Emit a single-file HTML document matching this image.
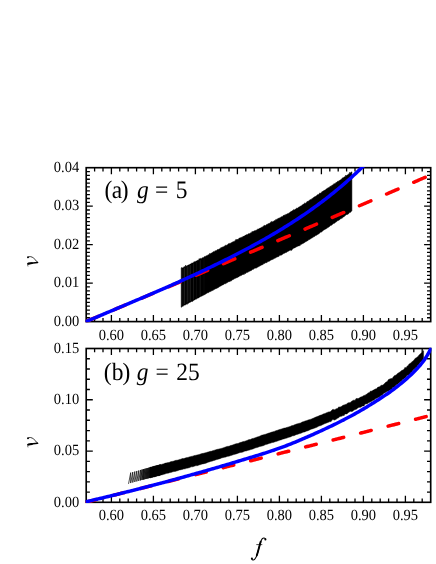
<!DOCTYPE html>
<html><head><meta charset="utf-8"><title>chart</title>
<style>html,body{margin:0;padding:0;background:#fff}body{width:436px;height:564px;overflow:hidden;font-family:"Liberation Serif",serif}svg{display:block;will-change:transform}</style>
</head><body>
<svg width="436" height="564" viewBox="0 0 436 564">
<rect width="436" height="564" fill="#fff"/>
<defs>
<clipPath id="ca"><rect x="85.45" y="166.95" width="346.0" height="155.40000000000003"/></clipPath>
<clipPath id="cb"><rect x="85.45" y="347.75" width="346.0" height="155.3"/></clipPath>
</defs>
<style>.t{font-family:"Liberation Serif",serif;font-size:14.5px;fill:#000}text{text-rendering:geometricPrecision}.l{font-family:"Liberation Serif",serif;font-size:23.5px;fill:#000}.i{font-style:italic}</style>
<path d="M94.60,321.6v-3.7M94.60,167.7v3.7M103.00,321.6v-3.7M103.00,167.7v3.7M111.40,321.6v-6.6M111.40,167.7v6.6M119.80,321.6v-3.7M119.80,167.7v3.7M128.20,321.6v-3.7M128.20,167.7v3.7M136.60,321.6v-3.7M136.60,167.7v3.7M145.00,321.6v-3.7M145.00,167.7v3.7M153.40,321.6v-6.6M153.40,167.7v6.6M161.80,321.6v-3.7M161.80,167.7v3.7M170.20,321.6v-3.7M170.20,167.7v3.7M178.60,321.6v-3.7M178.60,167.7v3.7M187.00,321.6v-3.7M187.00,167.7v3.7M195.40,321.6v-6.6M195.40,167.7v6.6M203.80,321.6v-3.7M203.80,167.7v3.7M212.20,321.6v-3.7M212.20,167.7v3.7M220.60,321.6v-3.7M220.60,167.7v3.7M229.00,321.6v-3.7M229.00,167.7v3.7M237.40,321.6v-6.6M237.40,167.7v6.6M245.80,321.6v-3.7M245.80,167.7v3.7M254.20,321.6v-3.7M254.20,167.7v3.7M262.60,321.6v-3.7M262.60,167.7v3.7M271.00,321.6v-3.7M271.00,167.7v3.7M279.40,321.6v-6.6M279.40,167.7v6.6M287.80,321.6v-3.7M287.80,167.7v3.7M296.20,321.6v-3.7M296.20,167.7v3.7M304.60,321.6v-3.7M304.60,167.7v3.7M313.00,321.6v-3.7M313.00,167.7v3.7M321.40,321.6v-6.6M321.40,167.7v6.6M329.80,321.6v-3.7M329.80,167.7v3.7M338.20,321.6v-3.7M338.20,167.7v3.7M346.60,321.6v-3.7M346.60,167.7v3.7M355.00,321.6v-3.7M355.00,167.7v3.7M363.40,321.6v-6.6M363.40,167.7v6.6M371.80,321.6v-3.7M371.80,167.7v3.7M380.20,321.6v-3.7M380.20,167.7v3.7M388.60,321.6v-3.7M388.60,167.7v3.7M397.00,321.6v-3.7M397.00,167.7v3.7M405.40,321.6v-6.6M405.40,167.7v6.6M413.80,321.6v-3.7M413.80,167.7v3.7M422.20,321.6v-3.7M422.20,167.7v3.7M86.2,317.75h3.7M430.7,317.75h-3.7M86.2,313.91h3.7M430.7,313.91h-3.7M86.2,310.06h3.7M430.7,310.06h-3.7M86.2,306.21h3.7M430.7,306.21h-3.7M86.2,302.36h3.7M430.7,302.36h-3.7M86.2,298.52h3.7M430.7,298.52h-3.7M86.2,294.67h3.7M430.7,294.67h-3.7M86.2,290.82h3.7M430.7,290.82h-3.7M86.2,286.97h3.7M430.7,286.97h-3.7M86.2,283.12h6.6M430.7,283.12h-6.6M86.2,279.28h3.7M430.7,279.28h-3.7M86.2,275.43h3.7M430.7,275.43h-3.7M86.2,271.58h3.7M430.7,271.58h-3.7M86.2,267.74h3.7M430.7,267.74h-3.7M86.2,263.89h3.7M430.7,263.89h-3.7M86.2,260.04h3.7M430.7,260.04h-3.7M86.2,256.19h3.7M430.7,256.19h-3.7M86.2,252.34h3.7M430.7,252.34h-3.7M86.2,248.50h3.7M430.7,248.50h-3.7M86.2,244.65h6.6M430.7,244.65h-6.6M86.2,240.80h3.7M430.7,240.80h-3.7M86.2,236.96h3.7M430.7,236.96h-3.7M86.2,233.11h3.7M430.7,233.11h-3.7M86.2,229.26h3.7M430.7,229.26h-3.7M86.2,225.41h3.7M430.7,225.41h-3.7M86.2,221.56h3.7M430.7,221.56h-3.7M86.2,217.72h3.7M430.7,217.72h-3.7M86.2,213.87h3.7M430.7,213.87h-3.7M86.2,210.02h3.7M430.7,210.02h-3.7M86.2,206.18h6.6M430.7,206.18h-6.6M86.2,202.33h3.7M430.7,202.33h-3.7M86.2,198.48h3.7M430.7,198.48h-3.7M86.2,194.63h3.7M430.7,194.63h-3.7M86.2,190.78h3.7M430.7,190.78h-3.7M86.2,186.94h3.7M430.7,186.94h-3.7M86.2,183.09h3.7M430.7,183.09h-3.7M86.2,179.24h3.7M430.7,179.24h-3.7M86.2,175.39h3.7M430.7,175.39h-3.7M86.2,171.55h3.7M430.7,171.55h-3.7" stroke="#000" stroke-width="1.3" fill="none"/>
<rect x="86.2" y="167.7" width="344.5" height="153.90000000000003" fill="none" stroke="#000" stroke-width="1.65"/>
<text transform="translate(79.2,325.80) scale(1,1.075)" text-anchor="end" class="t">0.00</text>
<text transform="translate(79.2,287.32) scale(1,1.075)" text-anchor="end" class="t">0.01</text>
<text transform="translate(79.2,248.85) scale(1,1.075)" text-anchor="end" class="t">0.02</text>
<text transform="translate(79.2,210.38) scale(1,1.075)" text-anchor="end" class="t">0.03</text>
<text transform="translate(79.2,171.90) scale(1,1.075)" text-anchor="end" class="t">0.04</text>
<text transform="translate(111.40,339.75) scale(1,1.075)" text-anchor="middle" class="t">0.60</text>
<text transform="translate(153.40,339.75) scale(1,1.075)" text-anchor="middle" class="t">0.65</text>
<text transform="translate(195.40,339.75) scale(1,1.075)" text-anchor="middle" class="t">0.70</text>
<text transform="translate(237.40,339.75) scale(1,1.075)" text-anchor="middle" class="t">0.75</text>
<text transform="translate(279.40,339.75) scale(1,1.075)" text-anchor="middle" class="t">0.80</text>
<text transform="translate(321.40,339.75) scale(1,1.075)" text-anchor="middle" class="t">0.85</text>
<text transform="translate(363.40,339.75) scale(1,1.075)" text-anchor="middle" class="t">0.90</text>
<text transform="translate(405.40,339.75) scale(1,1.075)" text-anchor="middle" class="t">0.95</text>
<path d="M94.60,502.3v-3.7M94.60,348.5v3.7M103.00,502.3v-3.7M103.00,348.5v3.7M111.40,502.3v-6.6M111.40,348.5v6.6M119.80,502.3v-3.7M119.80,348.5v3.7M128.20,502.3v-3.7M128.20,348.5v3.7M136.60,502.3v-3.7M136.60,348.5v3.7M145.00,502.3v-3.7M145.00,348.5v3.7M153.40,502.3v-6.6M153.40,348.5v6.6M161.80,502.3v-3.7M161.80,348.5v3.7M170.20,502.3v-3.7M170.20,348.5v3.7M178.60,502.3v-3.7M178.60,348.5v3.7M187.00,502.3v-3.7M187.00,348.5v3.7M195.40,502.3v-6.6M195.40,348.5v6.6M203.80,502.3v-3.7M203.80,348.5v3.7M212.20,502.3v-3.7M212.20,348.5v3.7M220.60,502.3v-3.7M220.60,348.5v3.7M229.00,502.3v-3.7M229.00,348.5v3.7M237.40,502.3v-6.6M237.40,348.5v6.6M245.80,502.3v-3.7M245.80,348.5v3.7M254.20,502.3v-3.7M254.20,348.5v3.7M262.60,502.3v-3.7M262.60,348.5v3.7M271.00,502.3v-3.7M271.00,348.5v3.7M279.40,502.3v-6.6M279.40,348.5v6.6M287.80,502.3v-3.7M287.80,348.5v3.7M296.20,502.3v-3.7M296.20,348.5v3.7M304.60,502.3v-3.7M304.60,348.5v3.7M313.00,502.3v-3.7M313.00,348.5v3.7M321.40,502.3v-6.6M321.40,348.5v6.6M329.80,502.3v-3.7M329.80,348.5v3.7M338.20,502.3v-3.7M338.20,348.5v3.7M346.60,502.3v-3.7M346.60,348.5v3.7M355.00,502.3v-3.7M355.00,348.5v3.7M363.40,502.3v-6.6M363.40,348.5v6.6M371.80,502.3v-3.7M371.80,348.5v3.7M380.20,502.3v-3.7M380.20,348.5v3.7M388.60,502.3v-3.7M388.60,348.5v3.7M397.00,502.3v-3.7M397.00,348.5v3.7M405.40,502.3v-6.6M405.40,348.5v6.6M413.80,502.3v-3.7M413.80,348.5v3.7M422.20,502.3v-3.7M422.20,348.5v3.7M86.2,492.05h3.7M430.7,492.05h-3.7M86.2,481.79h3.7M430.7,481.79h-3.7M86.2,471.54h3.7M430.7,471.54h-3.7M86.2,461.29h3.7M430.7,461.29h-3.7M86.2,451.03h6.6M430.7,451.03h-6.6M86.2,440.78h3.7M430.7,440.78h-3.7M86.2,430.53h3.7M430.7,430.53h-3.7M86.2,420.27h3.7M430.7,420.27h-3.7M86.2,410.02h3.7M430.7,410.02h-3.7M86.2,399.77h6.6M430.7,399.77h-6.6M86.2,389.51h3.7M430.7,389.51h-3.7M86.2,379.26h3.7M430.7,379.26h-3.7M86.2,369.01h3.7M430.7,369.01h-3.7M86.2,358.75h3.7M430.7,358.75h-3.7" stroke="#000" stroke-width="1.3" fill="none"/>
<rect x="86.2" y="348.5" width="344.5" height="153.8" fill="none" stroke="#000" stroke-width="1.65"/>
<text transform="translate(79.2,506.50) scale(1,1.075)" text-anchor="end" class="t">0.00</text>
<text transform="translate(79.2,455.23) scale(1,1.075)" text-anchor="end" class="t">0.05</text>
<text transform="translate(79.2,403.97) scale(1,1.075)" text-anchor="end" class="t">0.10</text>
<text transform="translate(79.2,352.70) scale(1,1.075)" text-anchor="end" class="t">0.15</text>
<text transform="translate(111.40,520.45) scale(1,1.075)" text-anchor="middle" class="t">0.60</text>
<text transform="translate(153.40,520.45) scale(1,1.075)" text-anchor="middle" class="t">0.65</text>
<text transform="translate(195.40,520.45) scale(1,1.075)" text-anchor="middle" class="t">0.70</text>
<text transform="translate(237.40,520.45) scale(1,1.075)" text-anchor="middle" class="t">0.75</text>
<text transform="translate(279.40,520.45) scale(1,1.075)" text-anchor="middle" class="t">0.80</text>
<text transform="translate(321.40,520.45) scale(1,1.075)" text-anchor="middle" class="t">0.85</text>
<text transform="translate(363.40,520.45) scale(1,1.075)" text-anchor="middle" class="t">0.90</text>
<text transform="translate(405.40,520.45) scale(1,1.075)" text-anchor="middle" class="t">0.95</text>
<g clip-path="url(#ca)">
<polygon points="181.20,267.88 181.70,267.41 182.20,268.12 182.70,267.81 183.20,267.62 183.70,267.48 184.20,266.42 184.70,266.98 185.20,266.45 185.70,265.10 186.20,266.25 186.70,265.94 187.20,265.73 187.70,265.31 188.20,264.88 188.70,264.93 189.20,264.64 189.70,264.50 190.20,263.93 190.70,264.02 191.20,263.85 191.70,262.92 192.20,263.12 192.70,262.88 193.20,262.78 193.70,262.36 194.20,261.48 194.70,261.98 195.20,261.74 195.70,261.15 196.20,260.94 196.70,260.96 197.20,260.44 197.70,260.32 198.20,260.29 198.70,259.77 199.20,258.54 199.70,259.10 200.20,258.87 200.70,258.30 201.20,258.67 201.70,258.22 202.20,258.08 202.70,257.54 203.20,257.75 203.70,257.48 204.20,256.62 204.70,256.65 205.20,256.65 205.70,255.97 206.20,256.12 206.70,255.54 207.20,255.43 207.70,255.17 208.20,255.08 208.70,254.56 209.20,254.55 209.70,253.26 210.20,253.81 210.70,253.63 211.20,252.85 211.70,253.29 212.20,252.62 212.70,252.45 213.20,251.60 213.70,251.84 214.20,251.66 214.70,251.19 215.20,250.47 215.70,250.95 216.20,250.76 216.70,250.36 217.20,249.65 217.70,249.56 218.20,249.67 218.70,249.08 219.20,248.65 219.70,249.01 220.20,248.58 220.70,247.71 221.20,247.46 221.70,247.61 222.20,247.34 222.70,246.90 223.20,246.99 223.70,246.60 224.20,246.26 224.70,246.00 225.20,245.48 225.70,245.18 226.20,245.30 226.70,245.17 227.20,244.95 227.70,244.53 228.20,243.97 228.70,243.49 229.20,244.01 229.70,243.21 230.20,243.16 230.70,243.14 231.20,242.84 231.70,242.59 232.20,242.36 232.70,241.84 233.20,241.60 233.70,241.64 234.20,241.40 234.70,240.95 235.20,240.83 235.70,239.53 236.20,239.75 236.70,239.50 237.20,239.00 237.70,239.51 238.20,239.14 238.70,238.92 239.20,237.88 239.70,238.12 240.20,237.92 240.70,237.56 241.20,237.45 241.70,237.28 242.20,237.37 242.70,236.85 243.20,235.96 243.70,236.54 244.20,236.03 244.70,236.06 245.20,235.08 245.70,235.29 246.20,234.76 246.70,234.64 247.20,234.78 247.70,234.25 248.20,233.69 248.70,233.82 249.20,233.73 249.70,233.41 250.20,233.14 250.70,232.79 251.20,232.44 251.70,232.39 252.20,231.24 252.70,231.99 253.20,231.60 253.70,231.07 254.20,230.74 254.70,230.85 255.20,230.45 255.70,230.58 256.20,230.18 256.70,230.03 257.20,229.76 257.70,228.88 258.20,229.11 258.70,229.01 259.20,228.46 259.70,228.34 260.20,227.93 260.70,227.89 261.20,227.41 261.70,227.35 262.20,227.21 262.70,226.66 263.20,226.48 263.70,225.75 264.20,225.31 264.70,225.61 265.20,225.52 265.70,225.42 266.20,224.84 266.70,224.47 267.20,224.23 267.70,224.37 268.20,223.46 268.70,223.79 269.20,223.60 269.70,223.04 270.20,222.89 270.70,221.90 271.20,222.15 271.70,221.37 272.20,222.07 272.70,221.65 273.20,221.48 273.70,220.96 274.20,220.76 274.70,220.59 275.20,220.49 275.70,219.50 276.20,219.66 276.70,219.22 277.20,219.14 277.70,218.73 278.20,218.58 278.70,218.09 279.20,218.30 279.70,217.63 280.20,217.76 280.70,217.28 281.20,216.56 281.70,216.91 282.20,216.68 282.70,216.37 283.20,215.51 283.70,215.62 284.20,214.90 284.70,215.13 285.20,215.15 285.70,214.38 286.20,214.58 286.70,213.97 287.20,213.91 287.70,213.55 288.20,213.45 288.70,213.23 289.20,212.92 289.70,212.62 290.20,212.05 290.70,212.06 291.20,210.91 291.70,211.52 292.20,210.77 292.70,210.53 293.20,210.18 293.70,209.59 294.20,210.11 294.70,209.84 295.20,209.14 295.70,209.08 296.20,208.82 296.70,207.94 297.20,208.33 297.70,208.08 298.20,207.81 298.70,207.00 299.20,206.98 299.70,206.63 300.20,206.14 300.70,206.06 301.20,206.01 301.70,205.48 302.20,204.64 302.70,205.01 303.20,204.34 303.70,204.12 304.20,204.12 304.70,202.79 305.20,203.42 305.70,203.12 306.20,202.61 306.70,202.50 307.20,201.16 307.70,201.61 308.20,201.18 308.70,201.11 309.20,200.57 309.70,199.98 310.20,199.38 310.70,199.78 311.20,199.48 311.70,198.74 312.20,198.49 312.70,198.23 313.20,197.70 313.70,197.47 314.20,196.92 314.70,196.81 315.20,196.78 315.70,196.08 316.20,195.85 316.70,195.74 317.20,195.12 317.70,194.54 318.20,194.68 318.70,194.29 319.20,193.80 319.70,192.94 320.20,193.37 320.70,193.10 321.20,192.76 321.70,191.95 322.20,191.35 322.70,191.69 323.20,190.99 323.70,190.84 324.20,190.22 324.70,190.33 325.20,190.00 325.70,189.83 326.20,188.91 326.70,189.02 327.20,188.13 327.70,188.22 328.20,187.46 328.70,187.93 329.20,187.19 329.70,187.28 330.20,185.96 330.70,186.38 331.20,186.22 331.70,185.45 332.20,185.03 332.70,185.14 333.20,184.67 333.70,183.87 334.20,183.99 334.70,183.57 335.20,183.41 335.70,182.86 336.20,182.26 336.70,182.59 337.20,181.76 337.70,181.35 338.20,181.58 338.70,180.85 339.20,180.79 339.70,180.32 340.20,180.03 340.70,179.75 341.20,179.33 341.70,179.05 342.20,178.28 342.70,177.80 343.20,177.95 343.70,177.32 344.20,177.04 344.70,176.83 345.20,176.73 345.70,175.12 346.20,175.67 346.70,175.45 347.20,175.04 347.70,174.88 348.20,174.38 348.70,173.84 349.20,173.63 349.70,172.25 350.20,172.92 350.70,172.65 351.20,171.90 351.70,171.92 351.90,171.87 351.90,210.87 351.70,210.89 351.20,211.41 350.70,212.17 350.20,212.39 349.70,212.39 349.20,212.69 348.70,213.80 348.20,213.66 347.70,214.59 347.20,214.34 346.70,214.43 346.20,215.03 345.70,215.36 345.20,215.61 344.70,216.09 344.20,216.47 343.70,217.05 343.20,217.10 342.70,217.38 342.20,218.25 341.70,217.99 341.20,218.72 340.70,218.73 340.20,218.91 339.70,219.68 339.20,219.94 338.70,220.52 338.20,220.35 337.70,220.66 337.20,220.98 336.70,221.54 336.20,221.93 335.70,222.03 335.20,222.71 334.70,223.15 334.20,223.15 333.70,223.49 333.20,223.68 332.70,224.07 332.20,224.72 331.70,224.97 331.20,225.45 330.70,225.51 330.20,225.86 329.70,226.37 329.20,226.64 328.70,227.22 328.20,227.21 327.70,227.45 327.20,228.18 326.70,228.14 326.20,228.86 325.70,228.89 325.20,229.32 324.70,229.48 324.20,230.02 323.70,230.09 323.20,230.44 322.70,230.94 322.20,231.31 321.70,232.21 321.20,231.77 320.70,232.10 320.20,232.38 319.70,233.02 319.20,233.47 318.70,234.21 318.20,233.87 317.70,234.15 317.20,234.93 316.70,235.10 316.20,235.62 315.70,235.57 315.20,235.74 314.70,236.44 314.20,236.38 313.70,236.72 313.20,237.34 312.70,237.54 312.20,237.83 311.70,237.99 311.20,238.45 310.70,238.75 310.20,238.91 309.70,239.56 309.20,239.54 308.70,239.74 308.20,240.14 307.70,240.69 307.20,240.93 306.70,241.21 306.20,241.48 305.70,241.79 305.20,241.90 304.70,242.49 304.20,242.78 303.70,243.13 303.20,243.25 302.70,243.53 302.20,243.91 301.70,244.18 301.20,244.23 300.70,244.52 300.20,245.41 299.70,245.19 299.20,246.10 298.70,245.93 298.20,245.90 297.70,246.20 297.20,246.50 296.70,246.70 296.20,246.99 295.70,247.37 295.20,247.44 294.70,247.94 294.20,248.11 293.70,248.24 293.20,248.59 292.70,249.06 292.20,249.31 291.70,250.38 291.20,250.25 290.70,250.08 290.20,250.60 289.70,250.28 289.20,250.85 288.70,251.18 288.20,251.05 287.70,251.50 287.20,252.01 286.70,252.42 286.20,252.25 285.70,252.47 285.20,252.90 284.70,253.17 284.20,253.17 283.70,253.52 283.20,253.67 282.70,254.34 282.20,254.33 281.70,254.99 281.20,255.20 280.70,255.22 280.20,255.31 279.70,255.62 279.20,255.83 278.70,256.59 278.20,256.66 277.70,256.95 277.20,256.80 276.70,257.15 276.20,257.40 275.70,257.68 275.20,258.16 274.70,258.24 274.20,258.41 273.70,258.72 273.20,259.37 272.70,259.30 272.20,259.68 271.70,259.81 271.20,259.91 270.70,260.35 270.20,260.43 269.70,260.91 269.20,261.34 268.70,261.42 268.20,261.51 267.70,261.71 267.20,262.10 266.70,262.88 266.20,262.56 265.70,262.73 265.20,263.04 264.70,263.39 264.20,263.60 263.70,263.84 263.20,264.06 262.70,264.84 262.20,264.63 261.70,264.95 261.20,265.05 260.70,265.84 260.20,265.55 259.70,266.08 259.20,266.47 258.70,266.54 258.20,267.01 257.70,267.18 257.20,267.29 256.70,267.79 256.20,268.18 255.70,267.95 255.20,268.36 254.70,268.37 254.20,268.61 253.70,268.93 253.20,269.51 252.70,269.35 252.20,269.80 251.70,270.34 251.20,270.59 250.70,270.72 250.20,270.91 249.70,271.30 249.20,271.16 248.70,271.44 248.20,272.17 247.70,272.15 247.20,272.51 246.70,272.39 246.20,272.71 245.70,273.69 245.20,273.15 244.70,273.44 244.20,274.56 243.70,274.52 243.20,274.21 242.70,274.45 242.20,274.92 241.70,275.18 241.20,275.48 240.70,275.58 240.20,275.99 239.70,276.01 239.20,276.22 238.70,276.91 238.20,277.07 237.70,277.39 237.20,277.42 236.70,277.65 236.20,278.00 235.70,278.37 235.20,278.27 234.70,278.54 234.20,278.94 233.70,279.19 233.20,279.57 232.70,279.69 232.20,280.03 231.70,280.51 231.20,280.88 230.70,280.78 230.20,281.46 229.70,281.38 229.20,281.74 228.70,281.79 228.20,281.91 227.70,282.35 227.20,282.79 226.70,282.71 226.20,283.39 225.70,283.56 225.20,283.82 224.70,283.78 224.20,284.00 223.70,284.27 223.20,284.95 222.70,285.12 222.20,285.07 221.70,285.48 221.20,285.75 220.70,286.07 220.20,286.23 219.70,286.46 219.20,286.94 218.70,287.11 218.20,287.84 217.70,288.10 217.20,287.73 216.70,288.44 216.20,288.45 215.70,288.71 215.20,288.90 214.70,289.37 214.20,289.51 213.70,289.84 213.20,290.26 212.70,290.52 212.20,290.54 211.70,290.71 211.20,291.32 210.70,291.14 210.20,291.81 209.70,291.78 209.20,291.93 208.70,292.62 208.20,292.74 207.70,292.80 207.20,293.10 206.70,293.40 206.20,293.52 205.70,294.01 205.20,294.10 204.70,294.93 204.20,294.55 203.70,295.08 203.20,295.53 202.70,295.53 202.20,295.97 201.70,295.95 201.20,296.43 200.70,296.48 200.20,296.84 199.70,296.97 199.20,297.33 198.70,298.07 198.20,297.95 197.70,298.26 197.20,298.35 196.70,298.76 196.20,299.21 195.70,299.12 195.20,299.53 194.70,300.02 194.20,300.11 193.70,300.37 193.20,300.94 192.70,300.98 192.20,301.83 191.70,301.23 191.20,301.70 190.70,302.15 190.20,302.05 189.70,302.38 189.20,302.68 188.70,303.07 188.20,303.40 187.70,303.47 187.20,304.43 186.70,304.09 186.20,304.37 185.70,304.71 185.20,304.99 184.70,305.00 184.20,305.26 183.70,305.54 183.20,306.28 182.70,306.11 182.20,306.69 181.70,307.12 181.20,307.26" fill="#000" stroke="#000" stroke-width="0.5"/>
<line x1="183.0" x2="183.0" y1="268.7" y2="305.0" stroke="#fff" stroke-width="0.45" opacity="0.15"/><line x1="184.7" x2="184.7" y1="267.9" y2="304.1" stroke="#fff" stroke-width="0.45" opacity="0.33"/><line x1="186.2" x2="186.2" y1="267.1" y2="303.3" stroke="#fff" stroke-width="0.45" opacity="0.1"/><line x1="187.8" x2="187.8" y1="266.4" y2="302.4" stroke="#fff" stroke-width="0.45" opacity="0.33"/><line x1="190.2" x2="190.2" y1="265.2" y2="301.2" stroke="#fff" stroke-width="0.45" opacity="0.3"/><line x1="193.3" x2="193.3" y1="263.6" y2="299.5" stroke="#fff" stroke-width="0.45" opacity="0.26"/><line x1="196.5" x2="196.5" y1="262.0" y2="297.8" stroke="#fff" stroke-width="0.45" opacity="0.1"/><line x1="200.2" x2="200.2" y1="260.1" y2="295.8" stroke="#fff" stroke-width="0.45" opacity="0.22"/><line x1="204.0" x2="204.0" y1="258.2" y2="293.8" stroke="#fff" stroke-width="0.45" opacity="0.08"/>
<polyline points="85.20,321.87 86.65,321.26 88.10,320.65 89.55,320.04 91.00,319.43 92.45,318.83 93.90,318.22 95.35,317.61 96.80,317.00 98.25,316.39 99.70,315.78 101.15,315.17 102.60,314.56 104.05,313.95 105.50,313.34 106.95,312.74 108.40,312.13 109.85,311.52 111.30,310.91 112.75,310.30 114.20,309.69 115.65,309.08 117.10,308.47 118.55,307.86 119.99,307.25 121.44,306.65 122.89,306.04 124.34,305.43 125.79,304.82 127.24,304.21 128.69,303.60 130.14,302.99 131.59,302.38 133.04,301.77 134.49,301.16 135.94,300.55 137.39,299.94 138.84,299.33 140.29,298.72 141.74,298.11 143.19,297.51 144.64,296.90 146.09,296.29 147.54,295.68 148.99,295.07 150.44,294.46 151.89,293.85 153.34,293.24 154.79,292.63 156.24,292.02 157.69,291.41 159.14,290.80 160.59,290.19 162.04,289.58 163.49,288.97 164.94,288.36 166.39,287.75 167.84,287.14 169.29,286.53 170.74,285.92 172.19,285.31 173.64,284.70 175.09,284.09 176.54,283.48 177.99,282.86 179.44,282.25 180.89,281.64 182.34,281.03 183.79,280.42 185.24,279.81 186.69,279.20 188.14,278.59 189.58,277.98 191.03,277.37 192.48,276.76 193.93,276.14 195.38,275.53 196.83,274.92 198.28,274.31 199.73,273.70 201.18,273.09 202.63,272.48 204.08,271.86 205.53,271.25 206.98,270.64 208.43,270.03 209.88,269.42 211.33,268.81 212.78,268.19 214.23,267.58 215.68,266.97 217.13,266.36 218.58,265.74 220.03,265.13 221.48,264.52 222.93,263.91 224.38,263.29 225.83,262.68 227.28,262.07 228.73,261.46 230.18,260.84 231.63,260.23 233.08,259.62 234.53,259.00 235.98,258.39 237.43,257.78 238.88,257.16 240.33,256.55 241.78,255.94 243.23,255.32 244.68,254.71 246.13,254.10 247.58,253.48 249.03,252.87 250.48,252.25 251.93,251.64 253.38,251.02 254.83,250.41 256.28,249.80 257.73,249.18 259.17,248.57 260.62,247.95 262.07,247.34 263.52,246.72 264.97,246.11 266.42,245.49 267.87,244.88 269.32,244.26 270.77,243.64 272.22,243.03 273.67,242.41 275.12,241.80 276.57,241.18 278.02,240.56 279.47,239.95 280.92,239.33 282.37,238.72 283.82,238.10 285.27,237.48 286.72,236.87 288.17,236.25 289.62,235.63 291.07,235.01 292.52,234.40 293.97,233.78 295.42,233.16 296.87,232.55 298.32,231.93 299.77,231.31 301.22,230.69 302.67,230.07 304.12,229.46 305.57,228.84 307.02,228.22 308.47,227.60 309.92,226.98 311.37,226.36 312.82,225.74 314.27,225.12 315.72,224.51 317.17,223.89 318.62,223.27 320.07,222.65 321.52,222.03 322.97,221.41 324.42,220.79 325.87,220.17 327.32,219.55 328.76,218.93 330.21,218.31 331.66,217.68 333.11,217.06 334.56,216.44 336.01,215.82 337.46,215.20 338.91,214.58 340.36,213.96 341.81,213.34 343.26,212.71 344.71,212.09 346.16,211.47 347.61,210.85 349.06,210.23 350.51,209.60 351.96,208.98 353.41,208.36 354.86,207.73 356.31,207.11 357.76,206.49 359.21,205.86 360.66,205.24 362.11,204.62 363.56,203.99 365.01,203.37 366.46,202.74 367.91,202.12 369.36,201.49 370.81,200.87 372.26,200.25 373.71,199.62 375.16,198.99 376.61,198.37 378.06,197.74 379.51,197.12 380.96,196.49 382.41,195.87 383.86,195.24 385.31,194.61 386.76,193.99 388.21,193.36 389.66,192.73 391.11,192.11 392.56,191.48 394.01,190.85 395.46,190.22 396.91,189.60 398.35,188.97 399.80,188.34 401.25,187.71 402.70,187.08 404.15,186.45 405.60,185.82 407.05,185.20 408.50,184.57 409.95,183.94 411.40,183.31 412.85,182.68 414.30,182.05 415.75,181.42 417.20,180.79 418.65,180.16 420.10,179.52 421.55,178.89 423.00,178.26 424.45,177.63 425.90,177.00 427.35,176.37 428.80,175.74 430.25,175.10 431.70,174.47" fill="none" stroke="#ff0000" stroke-width="3.5" stroke-linecap="round" stroke-dasharray="12.5 17.08" stroke-dashoffset="-2"/>
<polyline points="85.20,321.92 86.65,321.31 88.10,320.70 89.55,320.08 91.00,319.47 92.45,318.86 93.90,318.25 95.35,317.63 96.80,317.02 98.25,316.41 99.70,315.79 101.15,315.18 102.60,314.57 104.05,313.96 105.50,313.34 106.95,312.73 108.40,312.12 109.85,311.50 111.30,310.89 112.75,310.28 114.20,309.67 115.65,309.05 117.10,308.44 118.55,307.83 119.99,307.21 121.44,306.60 122.89,305.99 124.34,305.38 125.79,304.76 127.24,304.15 128.69,303.54 130.14,302.93 131.59,302.31 133.04,301.70 134.49,301.09 135.94,300.47 137.39,299.86 138.84,299.25 140.29,298.64 141.74,298.02 143.19,297.41 144.64,296.80 146.09,296.18 147.54,295.57 148.99,294.95 150.44,294.34 151.89,293.72 153.34,293.10 154.79,292.47 156.24,291.85 157.69,291.22 159.14,290.60 160.59,289.97 162.04,289.34 163.49,288.70 164.94,288.07 166.39,287.43 167.84,286.79 169.29,286.15 170.74,285.51 172.19,284.87 173.64,284.22 175.09,283.57 176.54,282.93 177.99,282.28 179.44,281.62 180.89,280.97 182.34,280.31 183.79,279.66 185.24,279.00 186.69,278.33 188.14,277.67 189.58,277.01 191.03,276.34 192.48,275.67 193.93,275.00 195.38,274.33 196.83,273.65 198.28,272.97 199.73,272.30 201.18,271.61 202.63,270.93 204.08,270.25 205.53,269.56 206.98,268.87 208.43,268.18 209.88,267.48 211.33,266.79 212.78,266.09 214.23,265.39 215.68,264.68 217.13,263.98 218.58,263.27 220.03,262.56 221.48,261.84 222.93,261.13 224.38,260.41 225.83,259.69 227.28,258.96 228.73,258.23 230.18,257.50 231.63,256.77 233.08,256.03 234.53,255.29 235.98,254.55 237.43,253.80 238.88,253.05 240.33,252.30 241.78,251.54 243.23,250.78 244.68,250.02 246.13,249.25 247.58,248.48 249.03,247.71 250.48,246.93 251.93,246.14 253.38,245.36 254.83,244.57 256.28,243.77 257.73,242.97 259.17,242.17 260.62,241.36 262.07,240.55 263.52,239.73 264.97,238.91 266.42,238.08 267.87,237.25 269.32,236.41 270.77,235.57 272.22,234.73 273.67,233.87 275.12,233.02 276.57,232.15 278.02,231.29 279.47,230.41 280.92,229.53 282.37,228.65 283.82,227.75 285.27,226.86 286.72,225.95 288.17,225.04 289.62,224.13 291.07,223.20 292.52,222.27 293.97,221.34 295.42,220.39 296.87,219.44 298.32,218.49 299.77,217.52 301.22,216.55 302.67,215.57 304.12,214.58 305.57,213.59 307.02,212.59 308.47,211.58 309.92,210.56 311.37,209.53 312.82,208.50 314.27,207.45 315.72,206.40 317.17,205.34 318.62,204.27 320.07,203.19 321.52,202.10 322.97,201.01 324.42,199.90 325.87,198.78 327.32,197.66 328.76,196.52 330.21,195.38 331.66,194.22 333.11,193.05 334.56,191.88 336.01,190.69 337.46,189.49 338.91,188.28 340.36,187.06 341.81,185.83 343.26,184.59 344.71,183.33 346.16,182.07 347.61,180.79 349.06,179.50 350.51,178.19 351.96,176.88 353.41,175.55 354.86,174.21 356.31,172.86 357.76,171.49 359.21,170.11 360.66,168.72 362.11,167.31 363.56,165.89 365.01,164.46 366.46,163.01 367.91,161.55 369.36,160.07 370.81,158.58 372.26,157.07 373.71,155.55 375.16,154.01 376.61,152.46 378.06,150.89 379.51,149.30 380.96,147.70 382.41,146.09 383.86,144.45 385.31,142.80 386.76,141.14 388.21,139.45 389.66,137.75 391.11,136.03 392.56,134.30 394.01,132.54 395.46,130.77 396.91,128.98 398.35,127.17 399.80,125.35 401.25,123.50 402.70,121.64 404.15,119.75 405.60,117.85 407.05,115.92 408.50,113.98 409.95,112.02 411.40,110.03 412.85,108.03 414.30,106.00 415.75,103.95 417.20,101.88 418.65,99.79 420.10,97.68 421.55,95.55 423.00,93.39 424.45,91.21 425.90,89.01 427.35,86.79 428.80,84.54 430.25,82.27 431.70,79.98" fill="none" stroke="#0000ff" stroke-width="3.5"/>
</g>
<g clip-path="url(#cb)">
<polygon points="141,469.83 150.5,467.26 150.5,477.78 141,480.30" fill="#000" opacity="0.45"/>
<polygon points="150.00,467.22 151.00,467.10 152.00,466.96 153.00,466.57 154.00,466.25 155.00,465.88 156.00,465.82 157.00,465.61 158.00,465.31 159.00,465.01 160.00,464.56 161.00,464.65 162.00,464.17 163.00,463.89 164.00,463.73 165.00,463.11 166.00,463.10 167.00,462.83 168.00,462.62 169.00,462.47 170.00,462.10 171.00,461.56 172.00,461.47 173.00,461.27 174.00,461.00 175.00,460.57 176.00,460.26 177.00,460.26 178.00,459.97 179.00,459.66 180.00,459.19 181.00,459.35 182.00,458.53 183.00,458.57 184.00,458.61 185.00,458.08 186.00,457.87 187.00,457.44 188.00,457.49 189.00,456.91 190.00,456.84 191.00,456.57 192.00,456.17 193.00,456.14 194.00,455.61 195.00,455.44 196.00,455.25 197.00,454.95 198.00,454.79 199.00,454.58 200.00,454.16 201.00,453.87 202.00,453.60 203.00,453.35 204.00,453.22 205.00,452.83 206.00,452.64 207.00,452.30 208.00,451.94 209.00,451.87 210.00,451.37 211.00,451.22 212.00,451.12 213.00,450.53 214.00,450.38 215.00,449.91 216.00,449.76 217.00,449.36 218.00,449.21 219.00,448.90 220.00,448.69 221.00,448.57 222.00,448.13 223.00,447.88 224.00,447.50 225.00,447.19 226.00,446.82 227.00,446.41 228.00,446.34 229.00,446.23 230.00,445.79 231.00,445.37 232.00,445.33 233.00,444.78 234.00,444.45 235.00,444.07 236.00,443.80 237.00,443.58 238.00,443.54 239.00,442.96 240.00,442.55 241.00,442.29 242.00,442.02 243.00,441.53 244.00,441.43 245.00,441.18 246.00,440.82 247.00,440.53 248.00,439.98 249.00,439.60 250.00,439.62 251.00,439.27 252.00,438.62 253.00,438.49 254.00,438.13 255.00,437.85 256.00,437.47 257.00,437.04 258.00,436.78 259.00,436.43 260.00,436.06 261.00,435.50 262.00,435.02 263.00,434.94 264.00,434.50 265.00,434.38 266.00,434.10 267.00,433.70 268.00,433.29 269.00,433.01 270.00,432.80 271.00,432.24 272.00,432.11 273.00,431.76 274.00,431.38 275.00,431.20 276.00,430.62 277.00,430.50 278.00,429.96 279.00,429.67 280.00,429.32 281.00,429.19 282.00,428.71 283.00,428.52 284.00,428.06 285.00,428.02 286.00,427.80 287.00,427.29 288.00,427.15 289.00,426.70 290.00,426.58 291.00,426.01 292.00,425.49 293.00,425.53 294.00,425.01 295.00,424.58 296.00,424.29 297.00,423.84 298.00,423.67 299.00,423.22 300.00,423.18 301.00,422.73 302.00,422.09 303.00,421.75 304.00,421.51 305.00,420.98 306.00,420.83 307.00,420.47 308.00,420.01 309.00,419.67 310.00,419.42 311.00,419.15 312.00,418.77 313.00,418.21 314.00,417.93 315.00,417.35 316.00,417.09 317.00,416.53 318.00,416.34 319.00,415.71 320.00,415.34 321.00,415.05 322.00,414.71 323.00,414.06 324.00,413.76 325.00,413.43 326.00,413.03 327.00,412.48 328.00,412.18 329.00,411.71 330.00,411.88 331.00,411.12 332.00,409.93 333.00,409.15 334.00,409.64 335.00,409.63 336.00,408.79 337.00,408.63 338.00,407.64 339.00,406.84 340.00,407.23 341.00,406.52 342.00,406.30 343.00,405.01 344.00,405.17 345.00,404.39 346.00,404.49 347.00,403.46 348.00,402.98 349.00,402.51 350.00,402.77 351.00,401.79 352.00,400.99 353.00,400.39 354.00,399.89 355.00,400.40 356.00,398.59 357.00,398.48 358.00,398.58 359.00,398.29 360.00,397.25 361.00,397.12 362.00,396.60 363.00,396.17 364.00,395.28 365.00,395.40 366.00,394.30 367.00,394.30 368.00,392.71 369.00,392.99 370.00,391.56 371.00,390.91 372.00,391.15 373.00,390.05 374.00,389.99 375.00,388.80 376.00,389.29 377.00,388.05 378.00,386.99 379.00,386.91 380.00,386.57 381.00,385.28 382.00,385.15 383.00,385.11 384.00,383.98 385.00,382.96 386.00,382.05 387.00,381.82 388.00,380.28 389.00,378.96 390.00,379.20 391.00,378.30 392.00,378.70 393.00,377.31 394.00,376.11 395.00,375.29 396.00,375.19 397.00,373.88 398.00,373.20 399.00,372.61 400.00,371.90 401.00,371.10 402.00,370.31 403.00,369.98 404.00,369.32 405.00,367.17 406.00,368.03 407.00,366.20 408.00,365.77 409.00,364.09 410.00,363.62 411.00,362.67 412.00,361.71 413.00,361.08 414.00,360.06 415.00,358.48 416.00,357.91 417.00,357.32 418.00,356.38 419.00,355.04 420.00,354.13 421.00,353.24 422.00,351.91 423.00,350.89 423.60,350.80 423.60,359.00 423.00,360.20 422.00,360.91 421.00,361.78 420.00,362.62 419.00,364.77 418.00,365.10 417.00,366.91 416.00,367.49 415.00,368.42 414.00,369.23 413.00,370.21 412.00,371.73 411.00,372.45 410.00,373.63 409.00,374.81 408.00,375.35 407.00,375.42 406.00,377.24 405.00,377.67 404.00,378.81 403.00,379.37 402.00,380.60 401.00,381.30 400.00,382.36 399.00,382.86 398.00,384.00 397.00,384.48 396.00,384.96 395.00,386.39 394.00,387.34 393.00,387.37 392.00,388.70 391.00,389.65 390.00,389.89 389.00,390.75 388.00,391.14 387.00,391.62 386.00,392.18 385.00,392.72 384.00,393.23 383.00,394.30 382.00,395.24 381.00,395.57 380.00,396.40 379.00,397.30 378.00,397.44 377.00,398.26 376.00,398.47 375.00,398.90 374.00,400.25 373.00,400.35 372.00,401.24 371.00,401.44 370.00,402.21 369.00,402.59 368.00,403.33 367.00,404.06 366.00,403.68 365.00,404.36 364.00,405.99 363.00,405.88 362.00,406.16 361.00,407.14 360.00,407.25 359.00,407.48 358.00,407.78 357.00,408.68 356.00,409.47 355.00,409.42 354.00,410.32 353.00,410.78 352.00,411.71 351.00,411.31 350.00,411.55 349.00,412.14 348.00,412.84 347.00,414.02 346.00,413.89 345.00,413.93 344.00,415.80 343.00,415.29 342.00,416.20 341.00,416.25 340.00,416.44 339.00,417.48 338.00,418.12 337.00,418.49 336.00,419.41 335.00,419.86 334.00,420.14 333.00,419.34 332.00,420.23 331.00,421.67 330.00,421.62 329.00,422.04 328.00,422.42 327.00,422.75 326.00,423.32 325.00,423.55 324.00,424.09 323.00,424.39 322.00,425.00 321.00,425.47 320.00,425.84 319.00,426.08 318.00,426.58 317.00,427.15 316.00,427.56 315.00,427.99 314.00,428.35 313.00,428.72 312.00,428.91 311.00,429.27 310.00,429.78 309.00,430.25 308.00,430.67 307.00,431.09 306.00,431.21 305.00,431.92 304.00,432.12 303.00,432.28 302.00,432.84 301.00,433.15 300.00,433.56 299.00,433.74 298.00,434.21 297.00,434.40 296.00,434.66 295.00,435.29 294.00,435.75 293.00,435.77 292.00,436.07 291.00,436.68 290.00,437.03 289.00,437.26 288.00,437.58 287.00,438.03 286.00,438.27 285.00,438.46 284.00,438.95 283.00,439.10 282.00,439.45 281.00,439.97 280.00,440.10 279.00,440.51 278.00,440.83 277.00,441.22 276.00,441.54 275.00,441.74 274.00,442.20 273.00,442.39 272.00,442.59 271.00,443.06 270.00,443.35 269.00,443.41 268.00,443.99 267.00,444.25 266.00,444.56 265.00,444.79 264.00,445.42 263.00,445.79 262.00,446.08 261.00,446.34 260.00,446.40 259.00,446.78 258.00,447.32 257.00,447.46 256.00,447.84 255.00,448.07 254.00,448.54 253.00,448.92 252.00,449.17 251.00,449.60 250.00,449.78 249.00,450.20 248.00,450.22 247.00,450.74 246.00,451.09 245.00,451.12 244.00,451.49 243.00,452.05 242.00,452.37 241.00,452.45 240.00,452.60 239.00,452.89 238.00,453.25 237.00,453.71 236.00,453.95 235.00,454.33 234.00,454.53 233.00,454.80 232.00,455.17 231.00,455.45 230.00,455.83 229.00,456.14 228.00,456.27 227.00,456.49 226.00,456.88 225.00,457.24 224.00,457.32 223.00,457.68 222.00,457.75 221.00,458.21 220.00,458.65 219.00,458.89 218.00,459.26 217.00,459.58 216.00,459.68 215.00,460.21 214.00,460.46 213.00,460.72 212.00,461.22 211.00,461.25 210.00,461.65 209.00,462.09 208.00,462.31 207.00,462.69 206.00,463.15 205.00,463.38 204.00,463.65 203.00,463.89 202.00,464.09 201.00,464.51 200.00,464.79 199.00,464.98 198.00,465.42 197.00,465.78 196.00,465.62 195.00,466.04 194.00,466.32 193.00,466.78 192.00,466.82 191.00,466.86 190.00,467.49 189.00,467.82 188.00,468.07 187.00,468.26 186.00,468.37 185.00,469.10 184.00,468.73 183.00,469.29 182.00,469.49 181.00,469.69 180.00,469.96 179.00,470.09 178.00,470.64 177.00,470.82 176.00,471.17 175.00,471.40 174.00,471.50 173.00,471.78 172.00,472.08 171.00,472.61 170.00,472.52 169.00,472.89 168.00,473.24 167.00,473.36 166.00,473.61 165.00,473.99 164.00,474.26 163.00,474.52 162.00,474.89 161.00,474.91 160.00,475.38 159.00,475.75 158.00,475.71 157.00,476.12 156.00,476.30 155.00,476.80 154.00,477.01 153.00,477.03 152.00,477.40 151.00,477.60 150.00,478.11" fill="#000" stroke="#000" stroke-width="0.4"/>
<polyline points="128.20,483.30 128.60,483.62 130.71,472.64 130.69,483.06 132.78,472.07 132.76,482.50 134.83,471.51 134.80,481.96 136.85,470.96 136.81,481.42 138.80,470.43 138.73,480.91 140.58,469.94 140.46,480.45 142.18,469.51 142.01,480.03 143.62,469.12 143.41,479.66 144.92,468.76 144.67,479.32 146.09,468.45 145.80,479.02 147.14,468.16 146.82,478.75 148.11,467.90 147.78,478.50 149.04,467.65 148.69,478.26 149.92,467.41 149.56,478.03 150.75,467.19 150.38,477.81 151.54,466.98 151.16,477.60 152.30,466.77 151.90,477.40 153.01,466.58 152.61,477.22 153.70,466.40 153.29,477.04 154.37,466.22 153.96,476.86 155.03,466.04 154.61,476.69 155.67,465.87 155.25,476.52 156.29,465.70 155.87,476.35 156.90,465.54 156.47,476.19 157.49,465.38 157.06,476.04 158.07,465.22 157.63,475.89 158.63,465.07 158.19,475.74 159.18,464.93 158.74,475.60 159.72,464.78 159.27,475.45 160.24,464.64 159.79,475.32 160.75,464.51" fill="none" stroke="#000" stroke-width="0.7" stroke-linejoin="round"/>
<polyline points="85.20,502.40 86.65,502.04 88.10,501.67 89.55,501.31 91.00,500.94 92.45,500.58 93.90,500.21 95.35,499.85 96.80,499.48 98.25,499.12 99.70,498.75 101.15,498.39 102.60,498.02 104.05,497.66 105.50,497.29 106.95,496.93 108.40,496.56 109.85,496.20 111.30,495.83 112.75,495.47 114.20,495.10 115.65,494.74 117.10,494.37 118.55,494.01 119.99,493.64 121.44,493.28 122.89,492.91 124.34,492.55 125.79,492.18 127.24,491.82 128.69,491.45 130.14,491.09 131.59,490.72 133.04,490.36 134.49,489.99 135.94,489.63 137.39,489.26 138.84,488.90 140.29,488.54 141.74,488.17 143.19,487.81 144.64,487.44 146.09,487.08 147.54,486.71 148.99,486.35 150.44,485.98 151.89,485.62 153.34,485.25 154.79,484.89 156.24,484.52 157.69,484.16 159.14,483.79 160.59,483.43 162.04,483.06 163.49,482.70 164.94,482.33 166.39,481.97 167.84,481.60 169.29,481.24 170.74,480.87 172.19,480.51 173.64,480.14 175.09,479.78 176.54,479.41 177.99,479.05 179.44,478.68 180.89,478.32 182.34,477.95 183.79,477.59 185.24,477.22 186.69,476.86 188.14,476.49 189.58,476.13 191.03,475.76 192.48,475.40 193.93,475.03 195.38,474.67 196.83,474.30 198.28,473.94 199.73,473.57 201.18,473.21 202.63,472.84 204.08,472.48 205.53,472.11 206.98,471.75 208.43,471.38 209.88,471.02 211.33,470.65 212.78,470.29 214.23,469.92 215.68,469.56 217.13,469.19 218.58,468.83 220.03,468.46 221.48,468.10 222.93,467.74 224.38,467.37 225.83,467.01 227.28,466.64 228.73,466.28 230.18,465.91 231.63,465.55 233.08,465.18 234.53,464.82 235.98,464.45 237.43,464.09 238.88,463.72 240.33,463.36 241.78,462.99 243.23,462.63 244.68,462.26 246.13,461.90 247.58,461.53 249.03,461.17 250.48,460.80 251.93,460.44 253.38,460.07 254.83,459.71 256.28,459.34 257.73,458.98 259.17,458.61 260.62,458.25 262.07,457.88 263.52,457.52 264.97,457.15 266.42,456.79 267.87,456.42 269.32,456.06 270.77,455.69 272.22,455.33 273.67,454.96 275.12,454.60 276.57,454.23 278.02,453.87 279.47,453.50 280.92,453.14 282.37,452.77 283.82,452.41 285.27,452.04 286.72,451.68 288.17,451.31 289.62,450.95 291.07,450.58 292.52,450.22 293.97,449.85 295.42,449.49 296.87,449.12 298.32,448.76 299.77,448.39 301.22,448.03 302.67,447.66 304.12,447.30 305.57,446.94 307.02,446.57 308.47,446.21 309.92,445.84 311.37,445.48 312.82,445.11 314.27,444.75 315.72,444.38 317.17,444.02 318.62,443.65 320.07,443.29 321.52,442.92 322.97,442.56 324.42,442.19 325.87,441.83 327.32,441.46 328.76,441.10 330.21,440.73 331.66,440.37 333.11,440.00 334.56,439.64 336.01,439.27 337.46,438.91 338.91,438.54 340.36,438.18 341.81,437.81 343.26,437.45 344.71,437.08 346.16,436.72 347.61,436.35 349.06,435.99 350.51,435.62 351.96,435.26 353.41,434.89 354.86,434.53 356.31,434.16 357.76,433.80 359.21,433.43 360.66,433.07 362.11,432.70 363.56,432.34 365.01,431.97 366.46,431.61 367.91,431.24 369.36,430.88 370.81,430.51 372.26,430.15 373.71,429.78 375.16,429.42 376.61,429.05 378.06,428.69 379.51,428.32 380.96,427.96 382.41,427.59 383.86,427.23 385.31,426.86 386.76,426.50 388.21,426.14 389.66,425.77 391.11,425.41 392.56,425.04 394.01,424.68 395.46,424.31 396.91,423.95 398.35,423.58 399.80,423.22 401.25,422.85 402.70,422.49 404.15,422.12 405.60,421.76 407.05,421.39 408.50,421.03 409.95,420.66 411.40,420.30 412.85,419.93 414.30,419.57 415.75,419.20 417.20,418.84 418.65,418.47 420.10,418.11 421.55,417.74 423.00,417.38 424.45,417.01 425.90,416.65 427.35,416.28 428.80,415.92 430.25,415.55 431.70,415.19" fill="none" stroke="#ff0000" stroke-width="3.5" stroke-linecap="round" stroke-dasharray="10.9 17.45" stroke-dashoffset="-0.5"/>
<polyline points="85.20,501.93 86.65,501.60 88.10,501.26 89.55,500.93 91.00,500.59 92.45,500.25 93.90,499.91 95.35,499.57 96.80,499.23 98.25,498.88 99.70,498.54 101.15,498.19 102.60,497.85 104.05,497.50 105.50,497.15 106.95,496.80 108.40,496.45 109.85,496.10 111.30,495.75 112.75,495.39 114.20,495.04 115.65,494.68 117.10,494.33 118.55,493.97 119.99,493.61 121.44,493.25 122.89,492.89 124.34,492.53 125.79,492.17 127.24,491.81 128.69,491.44 130.14,491.08 131.59,490.71 133.04,490.35 134.49,489.98 135.94,489.61 137.39,489.24 138.84,488.87 140.29,488.50 141.74,488.13 143.19,487.76 144.64,487.39 146.09,487.02 147.54,486.64 148.99,486.27 150.44,485.89 151.89,485.52 153.34,485.14 154.79,484.76 156.24,484.38 157.69,484.00 159.14,483.63 160.59,483.25 162.04,482.86 163.49,482.48 164.94,482.10 166.39,481.71 167.84,481.32 169.29,480.93 170.74,480.54 172.19,480.15 173.64,479.75 175.09,479.36 176.54,478.96 177.99,478.56 179.44,478.16 180.89,477.76 182.34,477.36 183.79,476.96 185.24,476.55 186.69,476.15 188.14,475.74 189.58,475.34 191.03,474.93 192.48,474.52 193.93,474.12 195.38,473.71 196.83,473.30 198.28,472.89 199.73,472.48 201.18,472.06 202.63,471.65 204.08,471.24 205.53,470.83 206.98,470.41 208.43,470.00 209.88,469.58 211.33,469.17 212.78,468.75 214.23,468.33 215.68,467.91 217.13,467.49 218.58,467.07 220.03,466.65 221.48,466.22 222.93,465.80 224.38,465.37 225.83,464.94 227.28,464.52 228.73,464.09 230.18,463.66 231.63,463.22 233.08,462.79 234.53,462.36 235.98,461.92 237.43,461.48 238.88,461.04 240.33,460.60 241.78,460.16 243.23,459.72 244.68,459.28 246.13,458.85 247.58,458.41 249.03,457.98 250.48,457.54 251.93,457.10 253.38,456.66 254.83,456.23 256.28,455.78 257.73,455.34 259.17,454.90 260.62,454.45 262.07,454.00 263.52,453.54 264.97,453.08 266.42,452.62 267.87,452.15 269.32,451.68 270.77,451.20 272.22,450.71 273.67,450.22 275.12,449.72 276.57,449.22 278.02,448.71 279.47,448.19 280.92,447.66 282.37,447.13 283.82,446.59 285.27,446.04 286.72,445.49 288.17,444.93 289.62,444.36 291.07,443.78 292.52,443.20 293.97,442.62 295.42,442.02 296.87,441.43 298.32,440.82 299.77,440.21 301.22,439.60 302.67,438.98 304.12,438.36 305.57,437.73 307.02,437.10 308.47,436.46 309.92,435.82 311.37,435.17 312.82,434.53 314.27,433.87 315.72,433.22 317.17,432.56 318.62,431.89 320.07,431.23 321.52,430.56 322.97,429.89 324.42,429.22 325.87,428.54 327.32,427.86 328.76,427.18 330.21,426.50 331.66,425.81 333.11,425.12 334.56,424.42 336.01,423.71 337.46,423.00 338.91,422.28 340.36,421.55 341.81,420.81 343.26,420.07 344.71,419.32 346.16,418.57 347.61,417.80 349.06,417.03 350.51,416.26 351.96,415.47 353.41,414.68 354.86,413.88 356.31,413.07 357.76,412.25 359.21,411.42 360.66,410.58 362.11,409.73 363.56,408.88 365.01,408.01 366.46,407.14 367.91,406.26 369.36,405.37 370.81,404.47 372.26,403.57 373.71,402.66 375.16,401.74 376.61,400.82 378.06,399.90 379.51,398.97 380.96,398.03 382.41,397.09 383.86,396.14 385.31,395.17 386.76,394.19 388.21,393.20 389.66,392.19 391.11,391.15 392.56,390.09 394.01,389.01 395.46,387.92 396.91,386.80 398.35,385.66 399.80,384.50 401.25,383.32 402.70,382.11 404.15,380.88 405.60,379.63 407.05,378.35 408.50,377.06 409.95,375.74 411.40,374.39 412.85,373.00 414.30,371.57 415.75,370.08 417.20,368.53 418.65,366.93 420.10,365.27 421.55,363.52 423.00,361.66 424.45,359.69 425.90,357.53 427.35,355.12 428.80,352.53 430.25,349.87 431.70,347.22" fill="none" stroke="#0000ff" stroke-width="3.5"/>
</g>
<text transform="translate(104.4,198.1) scale(1,1.07)" class="l">(<tspan dx="-0.4">a</tspan><tspan dx="-1.5">)</tspan> <tspan class="i" dx="2.6">g</tspan><tspan dx="0.4"> =</tspan><tspan dx="1.55"> 5</tspan></text>
<text transform="translate(103.8,379.6) scale(1,1.06)" class="l">(b<tspan dx="-0.8">)</tspan> <tspan class="i" dx="0.5">g</tspan><tspan dx="1"> =</tspan><tspan dx="1.75"> 25</tspan></text>
<g transform="translate(0,0)" fill="none" stroke="#000" stroke-linecap="round"><title>v</title><path d="M27.9,257.3C29.4,255.9 31.8,256.6 33.6,258.1C35.2,259.5 36.5,261 37.6,262.3" stroke-width="0.8"/><circle cx="28" cy="257.3" r="0.95" fill="#000" stroke="none"/><path d="M37.5,262.45L33,262.9L28.3,263.55" stroke-width="1.5" stroke-linejoin="round"/><path d="M32,263.1L28.2,263.75" stroke-width="1.8"/><path d="M28,263.6C27.5,264.2 27.6,265.3 27.9,266.1" stroke-width="0.8" opacity="0.75"/></g>
<g transform="translate(0,180.9)" fill="none" stroke="#000" stroke-linecap="round"><title>v</title><path d="M27.9,257.3C29.4,255.9 31.8,256.6 33.6,258.1C35.2,259.5 36.5,261 37.6,262.3" stroke-width="0.8"/><circle cx="28" cy="257.3" r="0.95" fill="#000" stroke="none"/><path d="M37.5,262.45L33,262.9L28.3,263.55" stroke-width="1.5" stroke-linejoin="round"/><path d="M32,263.1L28.2,263.75" stroke-width="1.8"/><path d="M28,263.6C27.5,264.2 27.6,265.3 27.9,266.1" stroke-width="0.8" opacity="0.75"/></g>
<g fill="none" stroke="#000" stroke-linecap="round" stroke-linejoin="round"><title>f</title><path d="M265.45,539.1C265,537.7 263.3,537.6 262.3,538.7C261.3,539.8 260.6,541.8 260,544L257.7,552.6C257,555.2 256,558 254.6,559.4C253.6,560.4 252.3,560.2 251.9,559" stroke-width="1.1"/><path d="M260.7,541.6C260.2,543.2 259.8,544.6 259.4,546.2L257.9,551.8C257.6,553 257.2,554.2 256.8,555.4" stroke-width="1.85"/><circle cx="265.4" cy="539.4" r="1.05" fill="#000" stroke="none"/><circle cx="251.9" cy="558.6" r="1.05" fill="#000" stroke="none"/><path d="M256.3,544.6H262.3" stroke-width="0.7" stroke-linecap="butt"/></g>
</svg>
</body></html>
